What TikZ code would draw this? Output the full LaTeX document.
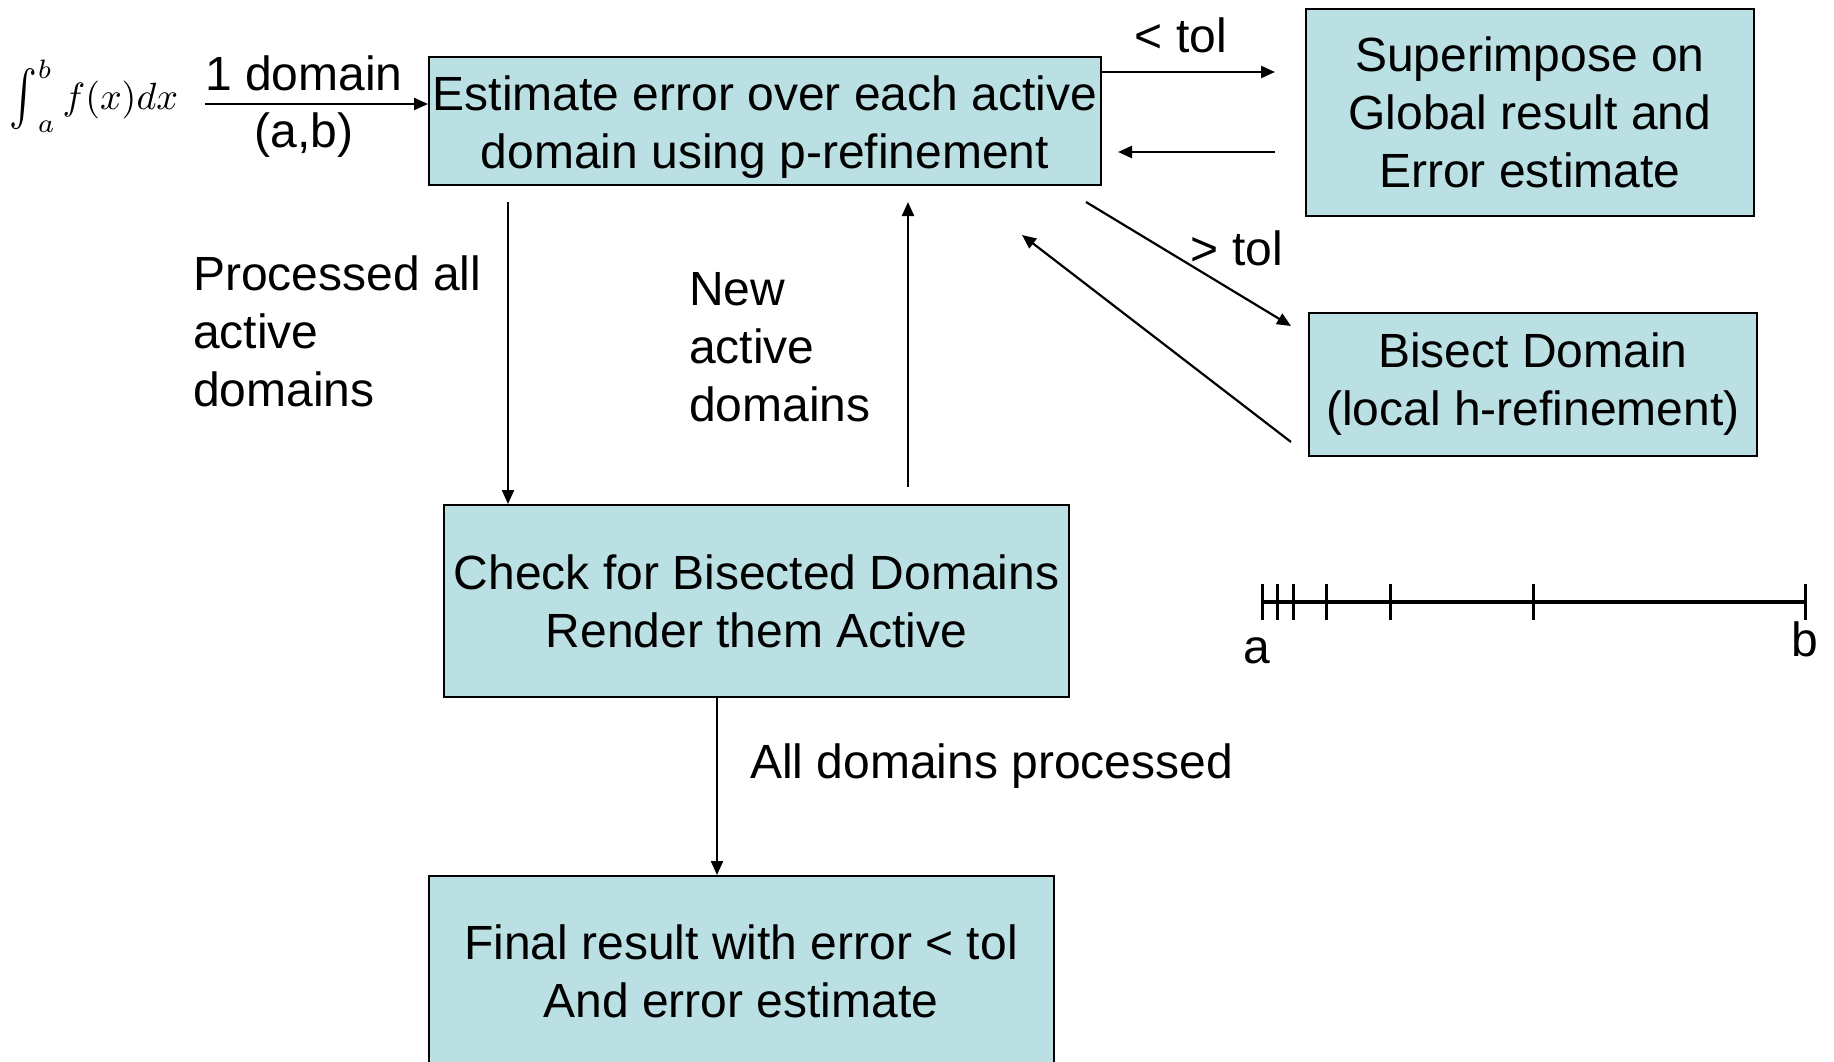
\documentclass[tikz,border=0pt]{standalone}
\usepackage{graphicx}
\usepackage{fontspec}
\setmainfont{Liberation Sans}
\usetikzlibrary{arrows.meta,calc}
\definecolor{boxfill}{HTML}{BBE0E3}
\begin{document}
\begin{tikzpicture}[x=1pt,y=-1pt,
  box/.style={draw=black,line width=2pt,fill=boxfill,rectangle,inner sep=0pt,align=center,font=\fontsize{48}{58}\selectfont},
  lbl/.style={inner sep=0pt,font=\fontsize{48}{58}\selectfont},
  arr/.style={line width=2.2pt,-{Triangle[length=14pt,width=12pt]}}]
\useasboundingbox (0,0) rectangle (1834,1062);
% boxes
\node[box,minimum width=672pt,minimum height=128pt] (est) at (765,121) {};
\node[lbl,align=center] (estt) at ($(est.center)+(0,6)$) {Estimate error over each active\\domain using p-refinement};
\node[box,minimum width=448pt,minimum height=207pt] (sup) at (1530,112.5) {Superimpose on\\Global result and\\Error estimate};
\node[box,minimum width=448pt,minimum height=143pt] (bis) at (1533,384.5) {Bisect Domain\\(local h-refinement)};
\node[box,minimum width=625pt,minimum height=192pt] (chk) at (756.5,601) {Check for Bisected Domains\\Render them Active};
\node[box,minimum width=625pt,minimum height=190pt] (fin) at (741,971) {Final result with error {<} tol\\And error estimate};
% integral
\node[inner sep=0pt] (int) at (94,96) {\scalebox{3.8}{$\mathop{\vcenter{\hbox{\scalebox{1.1}[1.45]{$\int$}}}}\nolimits_a^b f(x)dx$}};
% input arrow
\coordinate (in0) at (205,104);
\draw[arr] (in0) -- (in0 -| est.west);
\node[lbl] (dom) at (304,73) {1 domain};
\node[lbl] (ab) at (304,135) {(a,b)};
% to superimpose and back
\coordinate (lt0) at ($(est.north east)+(0,16)$);
\draw[arr,shorten >=30pt] (lt0) -- (lt0 -| sup.west);
\node[lbl] (ltl) at (1181,35) {< tol};
\coordinate (bk0) at (0,152);
\draw[arr,shorten <=30pt,shorten >=16pt] (bk0 -| sup.west) -- (bk0 -| est.east);
% to bisect and back
\coordinate (g0) at ($(est.south east)+(-16,16)$);
\coordinate (g1) at ($(bis.north west)+(-17,14)$);
\draw[arr] (g0) -- (g1);
\node[lbl] (gtl) at (1237,248) {> tol};
\coordinate (h0) at ($(bis.south west)+(-17,-15)$);
\coordinate (h1) at ($(est.south east)+(-80,49)$);
\draw[arr] (h0) -- (h1);
% down / up between est and chk
\coordinate (d0) at ($(est.south west)+(80,0)$);
\draw[arr,shorten <=16pt] (d0) -- (d0 |- chk.north);
\coordinate (u0) at ($(est.south west)+(480,0)$);
\draw[arr,shorten <=17pt,shorten >=16pt] (u0 |- chk.north) -- (u0);
\node[lbl,anchor=west,align=left] (pl) at (193,331) {Processed all\\active\\domains};
\node[lbl,anchor=west,align=left] (nl) at (689,347) {New\\active\\domains};
% chk to fin
\coordinate (f0) at (717,0);
\draw[arr] (f0 |- chk.south) -- (f0 |- fin.north);
\node[lbl,anchor=west] (al) at (750,766) {All domains processed};
% number line
\draw[line width=3.4pt] (1262,602) -- (1805.5,602);
\foreach \t in {1262,1277,1293,1326,1390,1533,1805.5}
  \draw[line width=3pt] (\t,584) -- (\t,620);
\node[lbl] (la) at (1257,651) {a};
\node[lbl] (lb) at (1805,639) {b};
\end{tikzpicture}
\end{document}
